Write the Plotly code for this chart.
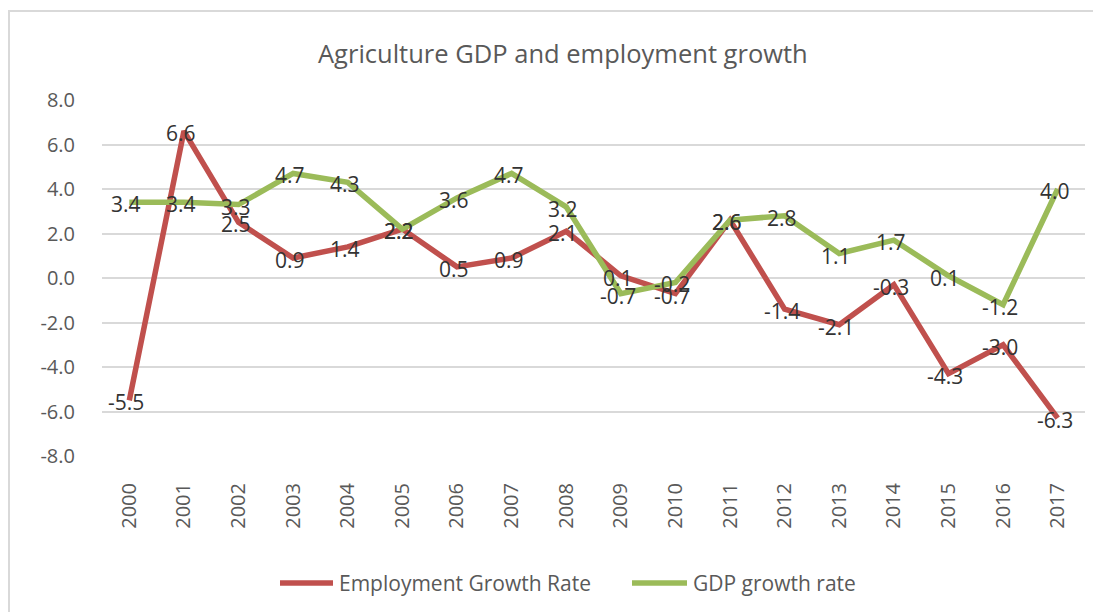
import plotly.graph_objects as go

years = [str(y) for y in range(2000, 2018)]
employment = [-5.5, 6.6, 2.5, 0.9, 1.4, 2.2, 0.5, 0.9, 2.1, 0.1, -0.7, 2.6, -1.4, -2.1, -0.3, -4.3, -3.0, -6.3]
gdp = [3.4, 3.4, 3.3, 4.7, 4.3, 2.2, 3.6, 4.7, 3.2, -0.7, -0.2, 2.6, 2.8, 1.1, 1.7, 0.1, -1.2, 4.0]
y_ticks = [-8, -6, -4, -2, 0, 2, 4, 6, 8]
series_names = ["Employment Growth Rate", "GDP growth rate"]

RED = "#C0504D"
GREEN = "#9BBB59"
FONT = "Open Sans"
LABEL_C = "#333333"
AXIS_C = "#595959"

fig = go.Figure()
annotations = []
for name, vals, col in [(series_names[0], employment, RED), (series_names[1], gdp, GREEN)]:
    fig.add_trace(go.Scatter(
        x=years, y=vals, name=name, mode="lines",
        line=dict(color=col, width=5.5), showlegend=False))
    for i, v in enumerate(vals):
        annotations.append(dict(x=i, y=v, xref="x", yref="y", text=f"{v:.1f}",
                                showarrow=False, xanchor="center", yanchor="middle",
                                xshift=-3, yshift=-2,
                                font=dict(family=FONT, size=21, color=LABEL_C)))

# page offset of 8px (body margin) accounted for in margins
L, T = 94, 92
W, H = 983, 356
R = 1101 - L - W
B = 612 - T - H

def px_x(p):
    return (p - 102) / W

def px_y(p):
    return (456 - p) / H

shapes = [dict(type="rect", xref="paper", yref="paper",
               x0=px_x(9), x1=px_x(1130), y0=px_y(640), y1=px_y(11),
               line=dict(color="#D9D9D9", width=2), layer="below")]
annotations.append(dict(text="Agriculture GDP and employment growth", xref="paper", yref="paper",
                        x=px_x(563), y=px_y(53), xanchor="center", yanchor="middle",
                        showarrow=False, font=dict(family=FONT, size=25.5, color=AXIS_C)))

legend_items = [(series_names[0], RED, 280, 333), (series_names[1], GREEN, 632, 687)]
for name, col, x0, x1 in legend_items:
    shapes.append(dict(type="line", xref="paper", yref="paper",
                       x0=px_x(x0), x1=px_x(x1), y0=px_y(583), y1=px_y(583),
                       line=dict(color=col, width=5.5)))
    annotations.append(dict(text=name, xref="paper", yref="paper",
                            x=px_x(x1 + 4), y=px_y(583), xanchor="left", yanchor="middle",
                            showarrow=False, font=dict(family=FONT, size=21, color=AXIS_C)))

fig.update_layout(
    width=1101, height=612,
    margin=dict(l=L, r=R, t=T, b=B),
    paper_bgcolor="white", plot_bgcolor="white",
    font=dict(family=FONT, color=AXIS_C),
    showlegend=False,
    xaxis=dict(type="category", range=[-0.5, 17.5], showgrid=False, showline=False,
               zeroline=False, tickangle=-90, ticks="outside", ticklen=18,
               tickcolor="rgba(0,0,0,0)",
               tickfont=dict(family=FONT, size=20, color=AXIS_C)),
    yaxis=dict(range=[-8, 8], tickvals=y_ticks, ticktext=[f"{v:.1f}" for v in y_ticks],
               showgrid=True, gridcolor="#D9D9D9", gridwidth=2, zeroline=False,
               showline=False, ticks="outside", ticklen=22, tickcolor="rgba(0,0,0,0)",
               tickfont=dict(family=FONT, size=20, color=AXIS_C)),
    annotations=annotations,
    shapes=shapes,
)

fig.write_html("out.html")
